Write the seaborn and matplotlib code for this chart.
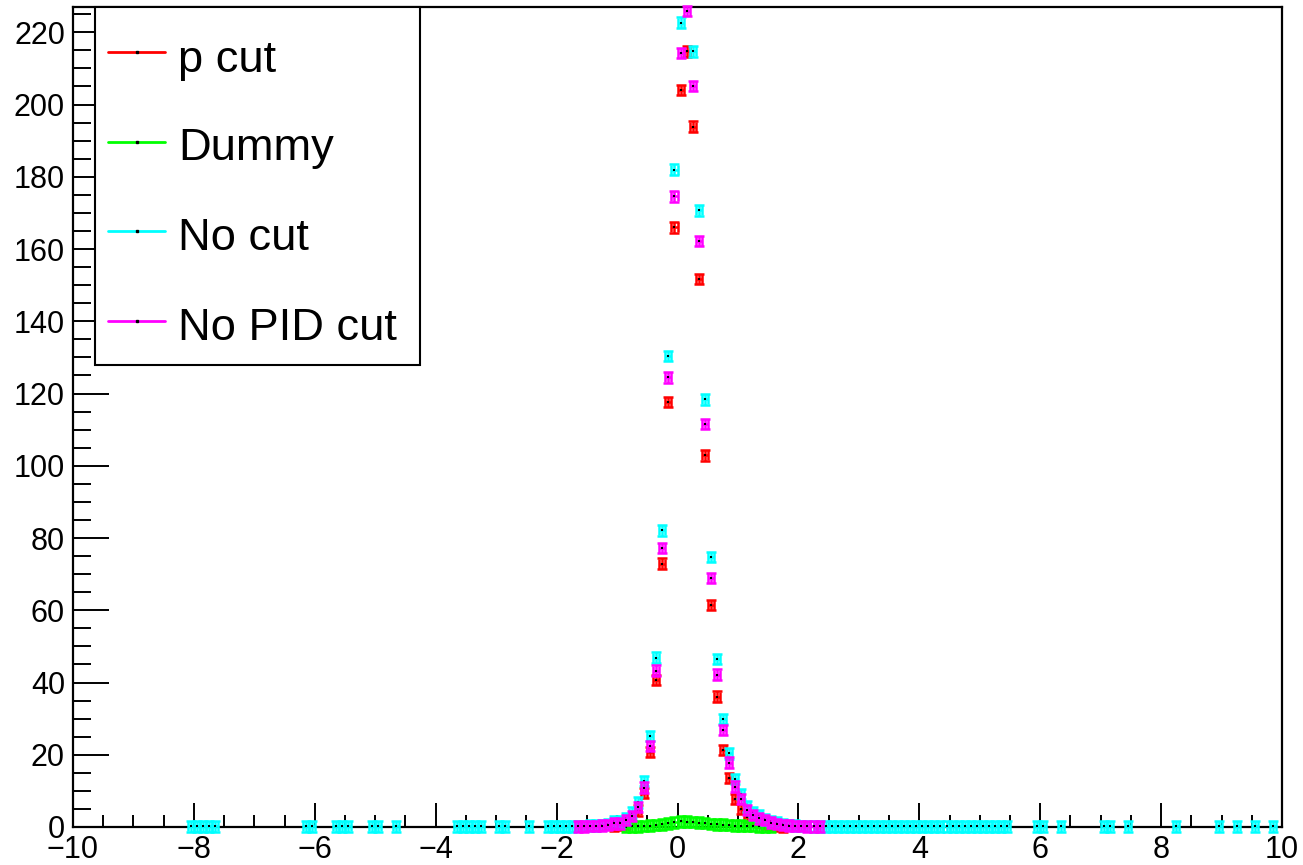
import numpy as np
import pandas as pd
import matplotlib
matplotlib.use("Agg")
import matplotlib.pyplot as plt
import seaborn as sns
from matplotlib.ticker import MultipleLocator
from matplotlib.lines import Line2D
from matplotlib.patches import Rectangle

# ---------------- data (bin centres, bin contents) ----------------
labels = ["p cut", "Dummy", "No cut", "No PID cut"]
colors = ["#ff0000", "#00ff00", "#00ffff", "#ff00ff"]

pcut_x = [-1.05, -0.95, -0.85, -0.75, -0.65, -0.55, -0.45, -0.35, -0.25, -0.15,
          -0.05, 0.05, 0.15, 0.25, 0.35, 0.45, 0.55, 0.65, 0.75, 0.85,
          0.95, 1.05, 1.15, 1.25, 1.35, 1.45, 1.55, 1.65, 1.75]
pcut_y = [0.3, 0.5, 1.0, 2.0, 4.6, 9.4, 20.8, 40.7, 72.9, 117.7,
          166.0, 204.0, 214.7, 193.9, 151.7, 102.9, 61.4, 36.1, 21.3, 13.5,
          7.7, 5.0, 2.9, 1.9, 1.5, 1.0, 0.6, 0.3, 0.2]

dummy_x = [-0.85, -0.75, -0.65, -0.55, -0.45, -0.35, -0.25, -0.15, -0.05, 0.05,
           0.15, 0.25, 0.35, 0.45, 0.55, 0.65, 0.75, 0.85, 0.95, 1.05,
           1.15, 1.25, 1.35, 1.45, 1.55]
dummy_y = [0.1, 0.15, 0.2, 0.3, 0.4, 0.55, 0.75, 1.0, 1.3, 1.55,
           1.5, 1.35, 1.2, 1.05, 0.9, 0.75, 0.65, 0.5, 0.4, 0.35,
           0.3, 0.25, 0.2, 0.15, 0.1]

nocut_x = [-8.05, -7.95, -7.85, -7.75, -7.65, -6.15, -6.05, -5.65, -5.55, -5.45,
           -5.05, -4.95, -4.65, -3.65, -3.55, -3.45, -3.35, -3.25, -2.95, -2.85,
           -2.45, -2.15, -2.05, -1.95, -1.85, -1.75, -1.65, -1.55, -1.45, -1.35,
           -1.25, -1.15, -1.05, -0.95, -0.85, -0.75, -0.65, -0.55, -0.45, -0.35,
           -0.25, -0.15, -0.05, 0.05, 0.15, 0.25, 0.35, 0.45, 0.55, 0.65,
           0.75, 0.85, 0.95, 1.05, 1.15, 1.25, 1.35, 1.45, 1.55, 1.65,
           1.75, 1.85, 1.95, 2.05, 2.15, 2.25, 2.35, 2.45, 2.55, 2.65,
           2.75, 2.85, 2.95, 3.05, 3.15, 3.25, 3.35, 3.45, 3.55, 3.65,
           3.75, 3.85, 3.95, 4.05, 4.15, 4.25, 4.35, 4.45, 4.55, 4.65,
           4.75, 4.85, 4.95, 5.05, 5.15, 5.25, 5.35, 5.45, 5.95, 6.05,
           6.35, 7.05, 7.15, 7.45, 8.25, 8.95, 9.25, 9.55, 9.85]
nocut_y = [0.2, 0.2, 0.2, 0.2, 0.2, 0.2, 0.2, 0.2, 0.2, 0.2,
           0.2, 0.2, 0.2, 0.2, 0.2, 0.2, 0.2, 0.2, 0.2, 0.2,
           0.2, 0.2, 0.2, 0.2, 0.2, 0.2, 0.3, 0.3, 0.4, 0.4,
           0.6, 0.9, 1.7, 1.5, 2.4, 4.0, 6.8, 12.7, 25.2, 46.9,
           82.1, 130.4, 182.0, 222.7, 235.0, 214.7, 170.7, 118.4, 74.7, 46.5,
           29.9, 20.4, 13.3, 9.2, 5.7, 4.2, 3.2, 2.1, 1.7, 1.2,
           0.8, 0.5, 0.4, 0.3, 0.3, 0.2, 0.2, 0.2, 0.2, 0.2,
           0.2, 0.2, 0.2, 0.2, 0.2, 0.2, 0.2, 0.2, 0.2, 0.2,
           0.2, 0.2, 0.2, 0.2, 0.2, 0.2, 0.2, 0.2, 0.2, 0.2,
           0.2, 0.2, 0.2, 0.2, 0.2, 0.2, 0.2, 0.2, 0.2, 0.2,
           0.2, 0.2, 0.2, 0.2, 0.2, 0.2, 0.2, 0.2, 0.2]

nopid_x = [-1.65, -1.55, -1.45, -1.35, -1.25, -1.15, -1.05, -0.95, -0.85, -0.75,
           -0.65, -0.55, -0.45, -0.35, -0.25, -0.15, -0.05, 0.05, 0.15, 0.25,
           0.35, 0.45, 0.55, 0.65, 0.75, 0.85, 0.95, 1.05, 1.15, 1.25,
           1.35, 1.45, 1.55, 1.65, 1.75, 1.85, 1.95, 2.05, 2.15, 2.25, 2.35]
nopid_y = [0.2, 0.2, 0.3, 0.3, 0.4, 0.6, 1.0, 1.0, 1.9, 3.1,
           5.6, 10.9, 22.4, 43.3, 77.3, 124.5, 174.6, 214.2, 225.9, 205.2,
           162.2, 111.6, 69.0, 42.2, 26.8, 17.8, 11.2, 7.7, 4.7, 3.3,
           2.4, 1.9, 1.2, 0.8, 0.6, 0.4, 0.3, 0.3, 0.2, 0.2, 0.2]

series_x = [pcut_x, dummy_x, nocut_x, nopid_x]
series_y = [pcut_y, dummy_y, nocut_y, nopid_y]

x_ticks = [-10, -8, -6, -4, -2, 0, 2, 4, 6, 8, 10]
y_ticks = [0, 20, 40, 60, 80, 100, 120, 140, 160, 180, 200, 220]

BIN_HALF = 0.05
Y_ERR = 1.45

# ---------------- figure ----------------
W, H = 1303, 865
sns.set_theme(style="white")
plt.rcParams["font.family"] = ["Liberation Sans", "DejaVu Sans"]
plt.rcParams["axes.unicode_minus"] = True

fig = plt.figure(figsize=(W / 100, H / 100), dpi=100)
ax = fig.add_axes([73 / W, 38 / H, (1282 - 73) / W, (827 - 7) / H])

for i, (xs, ys) in enumerate(zip(series_x, series_y)):
    df = pd.DataFrame({"x": xs, "y": ys})
    ax.errorbar(df["x"], df["y"], xerr=BIN_HALF, yerr=Y_ERR, fmt="none",
                ecolor=colors[i], elinewidth=1.8, capsize=3.5, capthick=1.8,
                zorder=2 + 2 * i, clip_on=False)
    sns.scatterplot(data=df, x="x", y="y", color="black", marker="s", s=4,
                    linewidth=0, ax=ax, zorder=3 + 2 * i, legend=False,
                    clip_on=False)

ax.set_xlim(-10, 10)
ax.set_ylim(0, 227)
ax.set_xticks(x_ticks)
ax.set_yticks(y_ticks)
ax.xaxis.set_minor_locator(MultipleLocator(0.5))
ax.yaxis.set_minor_locator(MultipleLocator(5))
ax.set_xlabel("")
ax.set_ylabel("")

for s in ax.spines.values():
    s.set_color("black")
    s.set_linewidth(1.6)
    s.set_visible(True)

ax.tick_params(axis="both", which="both", direction="in", colors="black",
               width=1.4, labelsize=22, top=False, right=False,
               bottom=True, left=True)
ax.tick_params(axis="x", which="major", length=17.3, pad=5.5)
ax.tick_params(axis="x", which="minor", length=8.6)
ax.tick_params(axis="y", which="major", length=26, pad=5.8)
ax.tick_params(axis="y", which="minor", length=13)

# ---------------- legend (ROOT TLegend style) ----------------
def fx(px):
    return px / W

def fy(py):
    return 1 - py / H

fig.patches.append(Rectangle((fx(95), fy(365)), fx(420) - fx(95), fy(7) - fy(365),
                             transform=fig.transFigure, facecolor="white",
                             edgecolor="black", linewidth=1.5, zorder=20))
line_y = [51.7, 141.7, 231.0, 321.0]
base_y = [71.7, 160.0, 250.0, 340.0]
for lab, c, ly, by in zip(labels, colors, line_y, base_y):
    fig.add_artist(Line2D([fx(108), fx(165)], [fy(ly), fy(ly)], color=c, lw=2,
                          transform=fig.transFigure, zorder=21))
    fig.add_artist(Line2D([fx(136.5)], [fy(ly)], color="black", marker="s",
                          markersize=1.6, linestyle="none",
                          transform=fig.transFigure, zorder=22))
    fig.text(fx(178), fy(by), lab, fontsize=32.6, color="black",
             ha="left", va="baseline", zorder=23)

fig.savefig("out.png", dpi=100, facecolor="white")
